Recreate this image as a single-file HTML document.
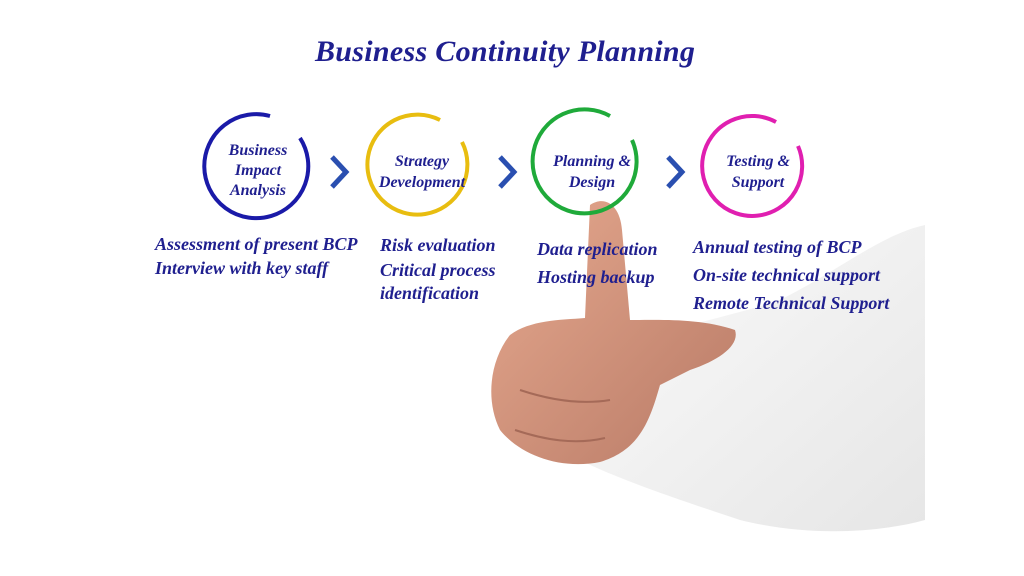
<!DOCTYPE html>
<html><head><style>
body{margin:0;width:1024px;height:576px;background:#fff;overflow:hidden;position:relative;font-family:"Liberation Serif",serif}
.t{position:absolute;color:#1f1f8f;font-style:italic;font-weight:bold;white-space:nowrap}
</style></head><body>
<svg width="1024" height="576" style="position:absolute;left:0;top:0">
<defs>
<linearGradient id="sk" x1="0" y1="0" x2="1" y2="1"><stop offset="0" stop-color="#e6a98f"/><stop offset="1" stop-color="#b87a66"/></linearGradient>
<linearGradient id="sl" x1="0" y1="0" x2="1" y2="1"><stop offset="0" stop-color="#fbfbfb"/><stop offset="1" stop-color="#e6e6e6"/></linearGradient>
</defs>
<path d="M600 360 C650 330 720 320 780 300 C840 270 880 235 925 225 L925 520 C870 535 800 535 740 520 C680 500 620 480 580 460 Z" fill="url(#sl)"/>
<path d="M590 205 C605 195 620 205 622 230 L630 320 C660 320 700 318 735 330 C740 345 720 360 690 370 L660 385 C650 420 640 450 600 462 C560 470 520 455 500 430 C485 400 490 360 510 335 C530 320 560 320 585 318 Z" fill="url(#sk)"/>
<path d="M520 390 C550 400 580 405 610 400 M515 430 C545 440 575 445 605 438" stroke="#a56a58" stroke-width="2" fill="none"/>
<g fill="none" stroke-width="4">
<path d="M300 138 A52 52 0 1 1 270 116" stroke="#1a1aa8"/>
<path d="M462 142 A50 50 0 1 1 440 120" stroke="#e8bd10"/>
<path d="M632 140 A52 52 0 1 1 610 116" stroke="#1faa3a"/>
<path d="M798 146 A50 50 0 1 1 776 122" stroke="#e01fb0"/>
</g>
<g fill="none" stroke="#2a4fb0" stroke-width="5">
<path d="M332 157 L346 172 L332 187"/>
<path d="M500 157 L514 172 L500 187"/>
<path d="M668 157 L682 172 L668 187"/>
</g>
</svg>
<div class="t" style="left:315px;top:35px;font-size:30px;letter-spacing:0.3px">Business Continuity Planning</div>
<div class="t" style="left:206px;top:141px;width:104px;text-align:center;font-size:16px;line-height:20px">Business<br>Impact<br>Analysis</div>
<div class="t" style="left:370px;top:151px;width:104px;text-align:center;font-size:16px;line-height:21px">Strategy<br>Development</div>
<div class="t" style="left:540px;top:151px;width:104px;text-align:center;font-size:16px;line-height:21px">Planning &amp;<br>Design</div>
<div class="t" style="left:706px;top:151px;width:104px;text-align:center;font-size:16px;line-height:21px">Testing &amp;<br>Support</div>
<div class="t" style="left:155px;top:232px;font-size:18px;line-height:24px">Assessment of present BCP<br>Interview with key staff</div>
<div class="t" style="left:380px;top:232px;font-size:18px;line-height:27px">Risk evaluation</div>
<div class="t" style="left:380px;top:259px;font-size:18px;line-height:23px">Critical process<br>identification</div>
<div class="t" style="left:537px;top:235px;font-size:18px;line-height:28px">Data replication<br>Hosting backup</div>
<div class="t" style="left:693px;top:233px;font-size:18px;line-height:28px">Annual testing of BCP<br>On-site technical support<br>Remote Technical Support</div>
</body></html>
